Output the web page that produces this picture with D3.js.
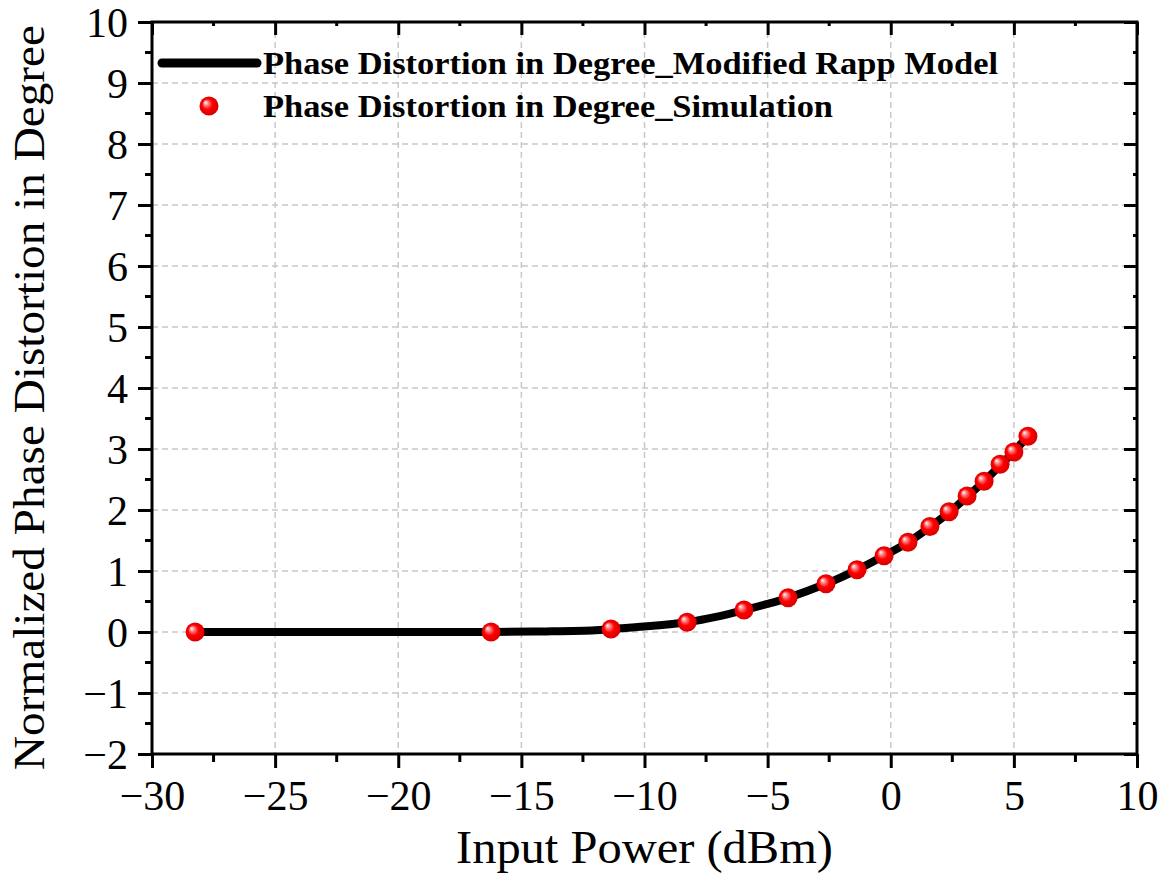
<!DOCTYPE html>
<html>
<head>
<meta charset="utf-8">
<script src="https://cdn.jsdelivr.net/npm/d3@7"></script>
<style>
  body { margin: 0; background: #fff; }
  svg { display: block; font-family: 'Liberation Serif', serif; }
</style>
</head>
<body>
<div id="chart"></div>
<script>
// model curve
const modelX = [-28.25, -24, -20, -16.2, -14, -12, -11.36, -10, -8.27, -7, -5.96, -5, -4.17, -2.63, -1.37, -0.27, 0.70, 1.59, 2.37, 3.10, 3.79, 4.44, 5.0, 5.57];
const modelY = [0, 0, 0, 0, 0.01, 0.03, 0.05, 0.09, 0.16, 0.255, 0.36, 0.46, 0.56, 0.79, 1.02, 1.25, 1.47, 1.72, 1.96, 2.22, 2.47, 2.73, 2.96, 3.21];

// simulation points
const simX = [-28.25, -16.23, -11.36, -8.27, -5.96, -4.17, -2.63, -1.37, -0.27, 0.70, 1.59, 2.37, 3.10, 3.79, 4.44, 5.00, 5.57];
const simY = [0, 0, 0.05, 0.16, 0.36, 0.56, 0.79, 1.02, 1.25, 1.47, 1.73, 1.97, 2.23, 2.47, 2.75, 2.95, 3.21];

const xTicks = [-30, -25, -20, -15, -10, -5, 0, 5, 10];
const yTicks = [-2, -1, 0, 1, 2, 3, 4, 5, 6, 7, 8, 9, 10];
const legendLabels = ['Phase Distortion in Degree_Modified Rapp Model', 'Phase Distortion in Degree_Simulation'];
const legendWidths = [735, 570];

const width = 1160, height = 877;
const margin = { top: 22, right: 23, bottom: 123, left: 152 };
const innerW = width - margin.left - margin.right;
const innerH = height - margin.top - margin.bottom;

const svg = d3.select('#chart').append('svg')
  .attr('width', width)
  .attr('height', height);

const defs = svg.append('defs');
const grad = defs.append('radialGradient')
  .attr('id', 'ball')
  .attr('cx', '50%').attr('cy', '50%').attr('r', '50%')
  .attr('fx', '30%').attr('fy', '30%');
grad.append('stop').attr('offset', '0%').attr('stop-color', '#ffffff');
grad.append('stop').attr('offset', '25%').attr('stop-color', '#ff8080');
grad.append('stop').attr('offset', '55%').attr('stop-color', '#ff0000');
grad.append('stop').attr('offset', '100%').attr('stop-color', '#d80000');

const g = svg.append('g').attr('transform', `translate(${margin.left},${margin.top})`);

const x = d3.scaleLinear().domain([-30, 10]).range([0, innerW]);
const y = d3.scaleLinear().domain([-2, 10]).range([innerH, 0]);

const minorX = d3.range(-30, 10.01, 2.5).filter(v => !xTicks.includes(v));
const minorY = d3.range(-2, 10.01, 0.5).filter(v => !yTicks.includes(v));

// grid
const grid = g.append('g').attr('class', 'grid')
  .attr('stroke', '#c8c8c8')
  .attr('stroke-width', 1.5)
  .attr('stroke-dasharray', '6,4');
grid.selectAll('.gx')
  .data(xTicks.slice(1, -1))
  .enter()
  .append('line')
  .attr('x1', d => x(d)).attr('x2', d => x(d))
  .attr('y1', 0).attr('y2', innerH);
grid.selectAll('.gy')
  .data(yTicks.slice(1, -1))
  .enter()
  .append('line')
  .attr('y1', d => y(d)).attr('y2', d => y(d))
  .attr('x1', 0).attr('x2', innerW);

// model line
const line = d3.line()
  .x(d => x(d[0]))
  .y(d => y(d[1]))
  .curve(d3.curveCatmullRom.alpha(0.5));

g.append('path')
  .datum(modelX.map((v, i) => [v, modelY[i]]))
  .attr('fill', 'none')
  .attr('stroke', '#000')
  .attr('stroke-width', 8)
  .attr('d', line);

// simulation markers
g.selectAll('.pt')
  .data(simX.map((v, i) => [v, simY[i]]))
  .enter()
  .append('circle')
  .attr('class', 'pt')
  .attr('cx', d => x(d[0]))
  .attr('cy', d => y(d[1]))
  .attr('r', 9.5)
  .attr('fill', 'url(#ball)');

// axes
function styleAxis(sel, fontSize) {
  sel.select('.domain').remove();
  sel.selectAll('.tick line').attr('stroke', '#000').attr('stroke-width', 3);
  sel.selectAll('.tick text')
    .attr('fill', '#000')
    .style('font-family', "'Liberation Serif', serif")
    .style('font-size', fontSize + 'px');
}
const fmt = d => d < 0 ? '\u2212' + Math.abs(d) : String(d);

const xAxis = g.append('g')
  .attr('transform', `translate(0,${innerH})`)
  .call(d3.axisBottom(x).tickValues(xTicks).tickFormat(fmt).tickSize(14).tickPadding(12));
styleAxis(xAxis, 42);

xAxis.selectAll('.minor')
  .data(minorX).enter().append('line')
  .attr('x1', d => x(d)).attr('x2', d => x(d))
  .attr('y1', 0).attr('y2', 8)
  .attr('stroke', '#000').attr('stroke-width', 3);

const yAxis = g.append('g')
  .call(d3.axisLeft(y).tickValues(yTicks).tickFormat(fmt).tickSize(14).tickPadding(10));
styleAxis(yAxis, 42);
yAxis.selectAll('.tick text').attr('dy', '0.34em');

yAxis.selectAll('.minor')
  .data(minorY).enter().append('line')
  .attr('y1', d => y(d)).attr('y2', d => y(d))
  .attr('x1', 0).attr('x2', -7)
  .attr('stroke', '#000').attr('stroke-width', 3);

const topAxis = g.append('g')
  .call(d3.axisTop(x).tickValues(xTicks).tickFormat('').tickSizeInner(-13).tickSizeOuter(0));
styleAxis(topAxis, 40);
topAxis.selectAll('.minor')
  .data(minorX).enter().append('line')
  .attr('x1', d => x(d)).attr('x2', d => x(d))
  .attr('y1', 0).attr('y2', 4)
  .attr('stroke', '#000').attr('stroke-width', 3);

const rightAxis = g.append('g')
  .attr('transform', `translate(${innerW},0)`)
  .call(d3.axisRight(y).tickValues(yTicks).tickFormat('').tickSizeInner(-13).tickSizeOuter(0));
styleAxis(rightAxis, 40);
rightAxis.selectAll('.minor')
  .data(minorY).enter().append('line')
  .attr('y1', d => y(d)).attr('y2', d => y(d))
  .attr('x1', 0).attr('x2', -4)
  .attr('stroke', '#000').attr('stroke-width', 3);

// frame
g.append('rect')
  .attr('x', 0).attr('y', 0)
  .attr('width', innerW).attr('height', innerH)
  .attr('fill', 'none')
  .attr('stroke', '#000')
  .attr('stroke-width', 3);

// axis titles
svg.append('text')
  .attr('x', 456)
  .attr('y', 863)
  .attr('textLength', 377)
  .attr('lengthAdjust', 'spacingAndGlyphs')
  .style('font-size', '46px')
  .text('Input Power (dBm)');

svg.append('text')
  .attr('transform', 'translate(44,770) rotate(-90)')
  .attr('textLength', 745)
  .attr('lengthAdjust', 'spacingAndGlyphs')
  .style('font-size', '44px')
  .text('Normalized Phase Distortion in Degree');

// legend
const legend = svg.append('g').attr('class', 'legend');
legend.append('line')
  .attr('x1', 162).attr('x2', 257)
  .attr('y1', 63).attr('y2', 63)
  .attr('stroke', '#000')
  .attr('stroke-width', 9)
  .attr('stroke-linecap', 'round');
legend.append('circle')
  .attr('cx', 209).attr('cy', 106)
  .attr('r', 9.5)
  .attr('fill', 'url(#ball)');
legend.selectAll('.lt')
  .data(legendLabels)
  .enter()
  .append('text')
  .attr('x', 263)
  .attr('y', (d, i) => 74 + i * 43)
  .attr('textLength', (d, i) => legendWidths[i])
  .attr('lengthAdjust', 'spacingAndGlyphs')
  .style('font-size', '31px')
  .style('font-weight', 'bold')
  .text(d => d);
</script>
</body>
</html>
